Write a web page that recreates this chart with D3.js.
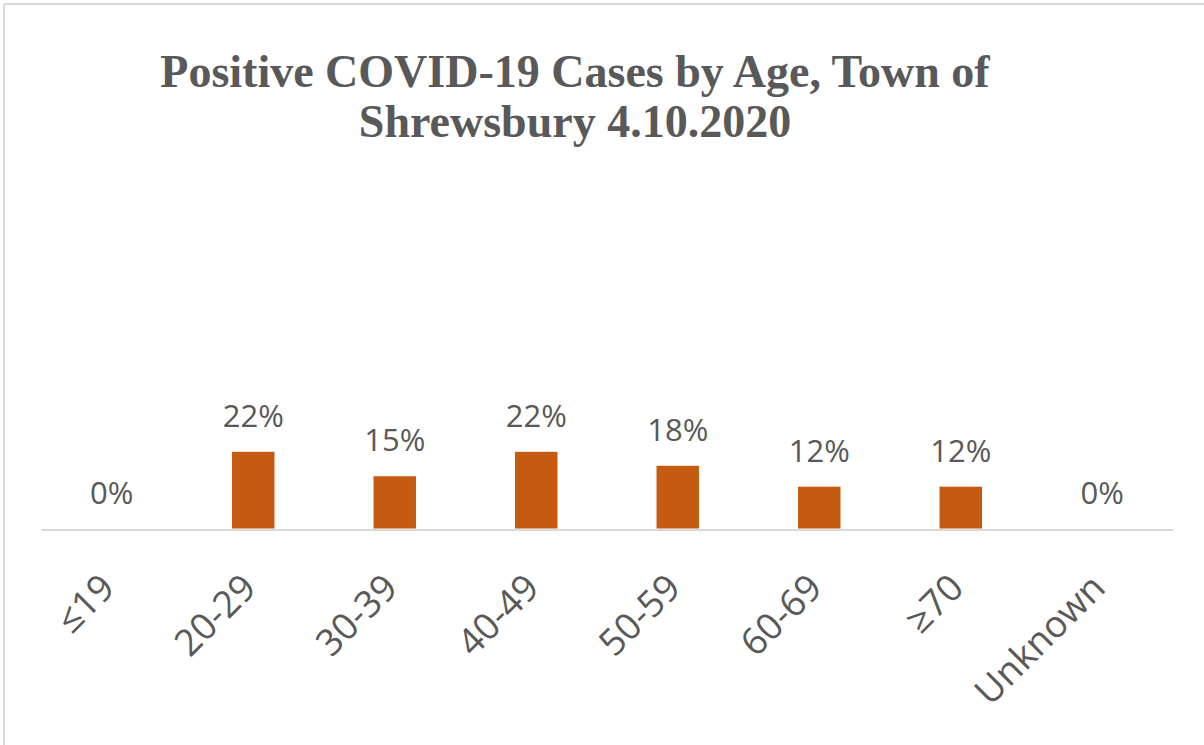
<!DOCTYPE html>
<html>
<head>
<meta charset="utf-8">
<script src="https://cdn.jsdelivr.net/npm/d3@7"></script>
<style>
  html, body { margin: 0; padding: 0; background: #fff; }
  svg { display: block; }
</style>
</head>
<body>
<svg id="chart" width="1204" height="745"></svg>
<script>
const categories = ["≤19", "20-29", "30-39", "40-49", "50-59", "60-69", "≥70", "Unknown"];
const values = [0.00, 0.22, 0.15, 0.22, 0.18, 0.12, 0.12, 0.00];
const valueLabels = ["0%", "22%", "15%", "22%", "18%", "12%", "12%", "0%"];
const titleLines = ["Positive COVID-19 Cases by Age, Town of", "Shrewsbury 4.10.2020"];

const svg = d3.select("#chart");
const W = 1204, H = 745;

// chart frame
svg.append("line").attr("x1", 4).attr("x2", W).attr("y1", 4).attr("y2", 4)
  .attr("stroke", "#d9d9d9").attr("stroke-width", 2);
svg.append("line").attr("x1", 4).attr("x2", 4).attr("y1", 4).attr("y2", H)
  .attr("stroke", "#d9d9d9").attr("stroke-width", 2);

// title
const title = svg.append("text")
  .attr("text-anchor", "middle")
  .attr("font-family", "'Liberation Serif', 'Times New Roman', serif")
  .attr("font-weight", "bold")
  .attr("font-size", 46)
  .attr("fill", "#595959");
titleLines.forEach((t, i) => {
  title.append("tspan").attr("x", 575).attr("y", 87 + i * 50).text(t);
});

const x = d3.scaleBand().domain(categories).range([41, 1173])
  .paddingInner(0.7).paddingOuter(0.35);
const y = d3.scaleLinear().domain([0, 1]).range([528.5, 180]);

// bars
svg.append("g").selectAll("rect").data(categories).join("rect")
  .attr("x", d => x(d))
  .attr("width", x.bandwidth())
  .attr("y", (d, i) => y(values[i]))
  .attr("height", (d, i) => y(0) - y(values[i]))
  .attr("fill", "#c55a11");

// axis line
const axis = d3.axisBottom(x).tickSize(0).tickFormat("");
const gAxis = svg.append("g").attr("transform", `translate(0,${y(0) + 1})`).call(axis);
gAxis.select(".domain").attr("stroke", "#d9d9d9").attr("stroke-width", 2);

// tick labels
svg.append("g").selectAll("text").data(categories).join("text")
  .attr("transform", d => `translate(${x(d) + x.bandwidth() / 2 + 5},590) rotate(-45)`)
  .attr("text-anchor", "end")
  .attr("font-family", "'Open Sans', sans-serif")
  .attr("font-size", 37)
  .attr("fill", "#595959")
  .text(d => d);

// data labels
svg.append("g").selectAll("text").data(categories).join("text")
  .attr("x", d => x(d) + x.bandwidth() / 2)
  .attr("y", (d, i) => y(values[i]) - 25)
  .attr("text-anchor", "middle")
  .attr("font-family", "'Open Sans', sans-serif")
  .attr("font-size", 31)
  .attr("fill", "#595959")
  .text((d, i) => valueLabels[i]);
</script>
</body>
</html>
